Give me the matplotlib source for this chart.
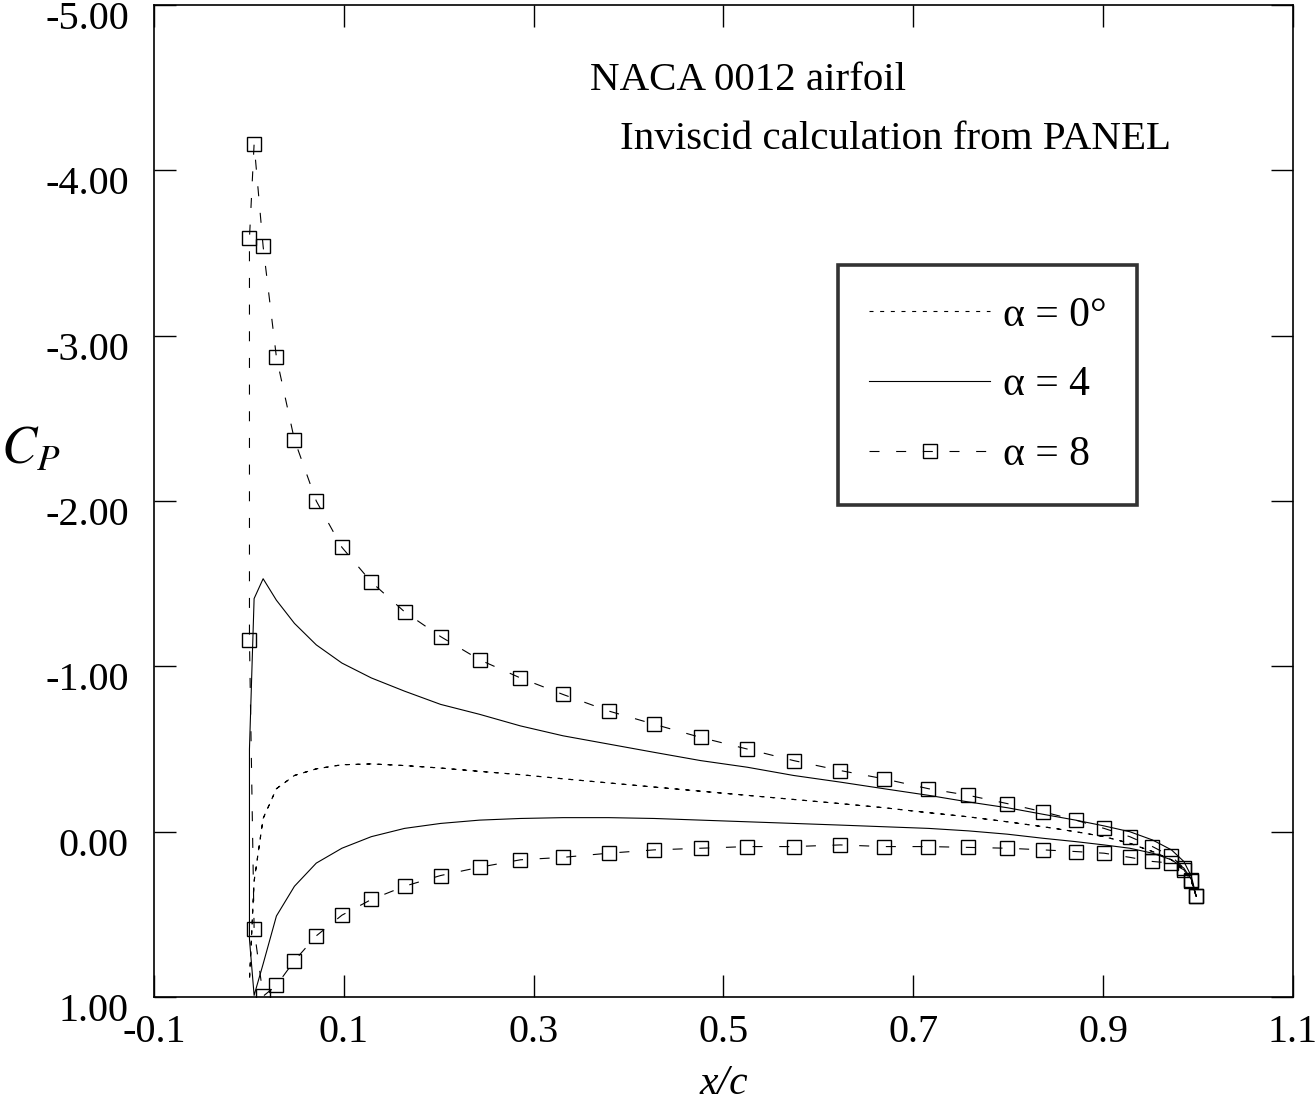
import numpy as np
import matplotlib
matplotlib.use('Agg')
import matplotlib.pyplot as plt
import matplotlib.transforms as mtransforms

plt.rcParams['font.family'] = ['Liberation Serif', 'DejaVu Serif']
plt.rcParams['axes.unicode_minus'] = False
plt.rcParams['mathtext.fontset'] = 'stix'

# panel control points (x/c), same on both surfaces
x_panel = [0.0006, 0.0055, 0.015, 0.029, 0.048, 0.071, 0.098, 0.129, 0.164, 0.202,
           0.243, 0.286, 0.331, 0.379, 0.427, 0.476, 0.525, 0.574, 0.623, 0.669,
           0.716, 0.758, 0.799, 0.837, 0.871, 0.901, 0.928, 0.952, 0.972, 0.985,
           0.993, 0.998]

# alpha = 0 (symmetric, upper = lower)
cp0 = [0.90, 0.30, -0.08, -0.26, -0.34, -0.38, -0.405, -0.41, -0.40, -0.385,
       -0.365, -0.345, -0.32, -0.295, -0.27, -0.245, -0.22, -0.195, -0.17, -0.145,
       -0.115, -0.09, -0.06, -0.03, 0.0, 0.03, 0.07, 0.12, 0.17, 0.23,
       0.30, 0.39]

# alpha = 4
cp4_upper = [-0.50, -1.41, -1.53, -1.40, -1.26, -1.13, -1.02, -0.93, -0.85, -0.77,
             -0.71, -0.64, -0.58, -0.53, -0.48, -0.43, -0.39, -0.34, -0.30, -0.26,
             -0.22, -0.18, -0.145, -0.105, -0.07, -0.035, 0.0, 0.05, 0.11, 0.18,
             0.27, 0.39]
cp4_lower = [0.65, 0.99, 0.80, 0.51, 0.33, 0.19, 0.10, 0.03, -0.02, -0.05,
             -0.07, -0.08, -0.085, -0.085, -0.08, -0.07, -0.06, -0.05, -0.04, -0.03,
             -0.02, -0.005, 0.015, 0.04, 0.06, 0.08, 0.10, 0.13, 0.17, 0.22,
             0.29, 0.39]

# alpha = 8
cp8_upper = [-3.59, -4.16, -3.54, -2.87, -2.37, -2.00, -1.72, -1.51, -1.33, -1.18,
             -1.04, -0.93, -0.83, -0.73, -0.65, -0.57, -0.50, -0.43, -0.37, -0.32,
             -0.26, -0.22, -0.17, -0.12, -0.07, -0.02, 0.03, 0.09, 0.15, 0.22,
             0.29, 0.39]
cp8_lower = [-1.16, 0.59, 0.995, 0.93, 0.78, 0.63, 0.505, 0.41, 0.33, 0.265,
             0.215, 0.17, 0.155, 0.13, 0.11, 0.10, 0.09, 0.09, 0.08, 0.09,
             0.09, 0.095, 0.10, 0.11, 0.12, 0.13, 0.155, 0.18, 0.19, 0.23,
             0.30, 0.39]

xt = [-0.1, 0.1, 0.3, 0.5, 0.7, 0.9, 1.1]
yt = [-5, -4, -3, -2, -1, 0, 1]


def around(lower, upper):
    # lower TE -> leading edge -> upper TE
    xx = np.concatenate([x_panel[::-1], x_panel])
    cc = np.concatenate([lower[::-1], upper])
    return xx, cc


fig = plt.figure(figsize=(13.16, 11.16), dpi=100)
ax = fig.add_axes([0.117, 0.1066, 0.8655, 0.8889])

x, c = around(cp0, cp0)
ax.plot(x, c, color='k', lw=0.8, dashes=(3.6, 6.0), label='α = 0°')
x, c = around(cp4_lower, cp4_upper)
ax.plot(x, c, color='k', lw=0.8, label='α = 4')
x, c = around(cp8_lower, cp8_upper)
ax.plot(x, c, color='k', lw=0.8, dashes=(9.0, 15.0), marker='s', ms=10,
        mfc='none', mec='k', mew=1.0, label='α = 8')

ax.set_xlim(-0.1, 1.1)
ax.set_ylim(1, -5)
ax.set_xticks(xt)
ax.set_xticklabels(['%.1f' % v for v in xt])
ax.set_yticks(yt)
ax.set_yticklabels(['%.2f' % v for v in yt])
ax.tick_params(direction='in', length=16, width=1.0, top=True, right=True,
               labelsize=29)
ax.tick_params(axis='x', pad=12)
ax.tick_params(axis='y', pad=18)
# y labels sit a little below their ticks in the original
shift = mtransforms.ScaledTranslation(0, -10 / 100, fig.dpi_scale_trans)
for lab in ax.get_yticklabels():
    lab.set_transform(lab.get_transform() + shift)
for s in ax.spines.values():
    s.set_linewidth(1.2)

ax.set_xlabel('x/c', fontsize=30, style='italic', labelpad=10)
ax.text(-0.108, 0.551, '$C_{P}$', transform=ax.transAxes, fontsize=38,
        ha='center', va='center')

ax.text(0.383, 0.924, 'NACA 0012 airfoil', transform=ax.transAxes, fontsize=29.5,
        va='center')
ax.text(0.409, 0.864, 'Inviscid calculation from PANEL', transform=ax.transAxes,
        fontsize=29.5, va='center')

leg = ax.legend(loc='upper left', bbox_to_anchor=(0.6005, 0.738), fontsize=30,
                frameon=True, fancybox=False, edgecolor='k', handlelength=2.9,
                numpoints=1, labelspacing=0.75, borderpad=0.75, handletextpad=0.3,
                borderaxespad=0)
leg.get_frame().set_linewidth(2.6)

fig.savefig('out.png', dpi=100)
